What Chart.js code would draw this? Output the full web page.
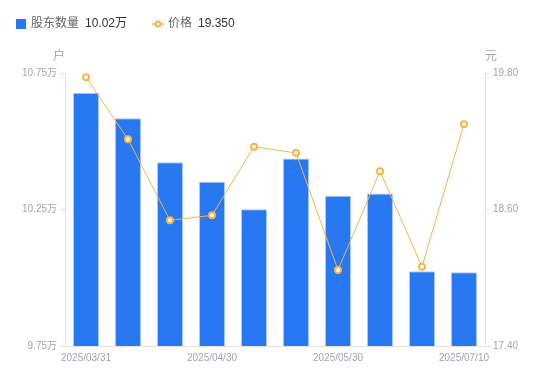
<!DOCTYPE html>
<html><head><meta charset="utf-8">
<script src="https://cdn.jsdelivr.net/npm/chart.js@4/dist/chart.umd.min.js"></script>
<style>html,body{margin:0;padding:0;background:#fff;}#wrap{position:relative;width:550px;height:381px;}</style>
</head><body><div id="wrap"><canvas id="c" width="550" height="381"></canvas></div>
<script>
const categories = ['2025/03/31','2025/04/10','2025/04/20','2025/04/30','2025/05/10','2025/05/20','2025/05/30','2025/06/20','2025/06/30','2025/07/10'];
const holders = [10.678, 10.584, 10.423, 10.352, 10.251, 10.437, 10.300, 10.309, 10.024, 10.02];
const prices = [19.762, 19.217, 18.505, 18.549, 19.152, 19.097, 18.068, 18.936, 18.097, 19.35];
const holderTicks = [9.75, 10.25, 10.75];
const priceTicks = [17.40, 18.60, 19.80];
const legendNames = ['股东数量', '价格'];
const legendValues = ['10.02万', '19.350'];
const units = ['户', '元'];

const FONT = '"Liberation Sans","Noto Sans CJK SC",sans-serif';
const BLUE = '#2878F2';
const ORANGE = '#F7B544';
const GRID = '#E3E3E8';
const TICK = '#A3A3B0';

const overlay = {
  id: 'overlay',
  afterDraw(chart) {
    const ctx = chart.ctx;
    const ca = chart.chartArea;
    ctx.save();
    ctx.textBaseline = 'middle';
    // legend
    ctx.font = '12px ' + FONT;
    let x = 16, y = 24;
    ctx.fillStyle = BLUE;
    ctx.fillRect(x, y - 5, 10, 10);
    x += 15;
    ctx.fillStyle = '#666';
    ctx.textAlign = 'left';
    ctx.fillText(legendNames[0], x, y);
    x += ctx.measureText(legendNames[0]).width + 6;
    ctx.fillStyle = '#333';
    ctx.fillText(legendValues[0], x, y);
    x = 152;
    ctx.strokeStyle = ORANGE; ctx.lineWidth = 1.5;
    ctx.beginPath(); ctx.moveTo(x, y); ctx.lineTo(x + 12, y); ctx.stroke();
    ctx.fillStyle = '#fff'; ctx.lineWidth = 2;
    ctx.beginPath(); ctx.arc(x + 6, y, 2.5, 0, Math.PI * 2); ctx.fill(); ctx.stroke();
    x += 16;
    ctx.fillStyle = '#666';
    ctx.fillText(legendNames[1], x, y);
    x += ctx.measureText(legendNames[1]).width + 6;
    ctx.fillStyle = '#333';
    ctx.fillText(legendValues[1], x, y);
    // units
    ctx.font = '12px ' + FONT;
    ctx.fillStyle = TICK;
    ctx.textAlign = 'center';
    ctx.fillText(units[0], ca.left - 6, 57);
    ctx.fillText(units[1], ca.right + 6, 57);
    ctx.restore();
  }
};

new Chart(document.getElementById('c'), {
  data: {
    labels: categories,
    datasets: [
      {
        type: 'line', label: legendNames[1], data: prices, yAxisID: 'y1',
        borderColor: ORANGE, borderWidth: 1, backgroundColor: '#fff',
        pointRadius: 3, pointBorderWidth: 2, pointBorderColor: ORANGE, pointBackgroundColor: '#fff',
        tension: 0, order: 0
      },
      {
        type: 'bar', label: legendNames[0], data: holders, yAxisID: 'y',
        backgroundColor: BLUE, borderColor: '#A9C9F7', borderWidth: {top:1,left:1,right:1,bottom:0},
        barPercentage: 0.62, categoryPercentage: 1, order: 1
      }
    ]
  },
  options: {
    responsive: false, animation: false,
    layout: { padding: { top: 73, left: 0, right: 0, bottom: 0 } },
    plugins: { legend: { display: false }, tooltip: { enabled: false } },
    scales: {
      x: {
        grid: { display: false, drawTicks: false },
        border: { display: true, color: GRID },
        ticks: {
          autoSkip: false, maxRotation: 0, color: TICK, padding: 6,
          font: { size: 10, family: FONT },
          callback: function(v, i) { return i % 3 === 0 ? categories[i] : ''; }
        },
        afterFit(s) { s.height = 35; }
      },
      y: {
        position: 'left', min: holderTicks[0], max: holderTicks[2],
        afterBuildTicks(s) { s.ticks = holderTicks.map(v => ({ value: v })); },
        grid: { drawOnChartArea: false, drawTicks: true, tickLength: 5, color: GRID },
        border: { display: true, color: GRID },
        ticks: { color: TICK, padding: 3, font: { size: 10, family: FONT },
          callback: v => v.toFixed(2) + '万' },
        afterFit(s) { s.width = 65; }
      },
      y1: {
        position: 'right', min: priceTicks[0], max: priceTicks[2],
        afterBuildTicks(s) { s.ticks = priceTicks.map(v => ({ value: v })); },
        grid: { drawOnChartArea: false, drawTicks: true, tickLength: 5, color: GRID },
        border: { display: true, color: GRID },
        ticks: { color: TICK, padding: 3, font: { size: 10, family: FONT },
          callback: v => v.toFixed(2) },
        afterFit(s) { s.width = 65; }
      }
    }
  },
  plugins: [overlay]
});
</script></body></html>
